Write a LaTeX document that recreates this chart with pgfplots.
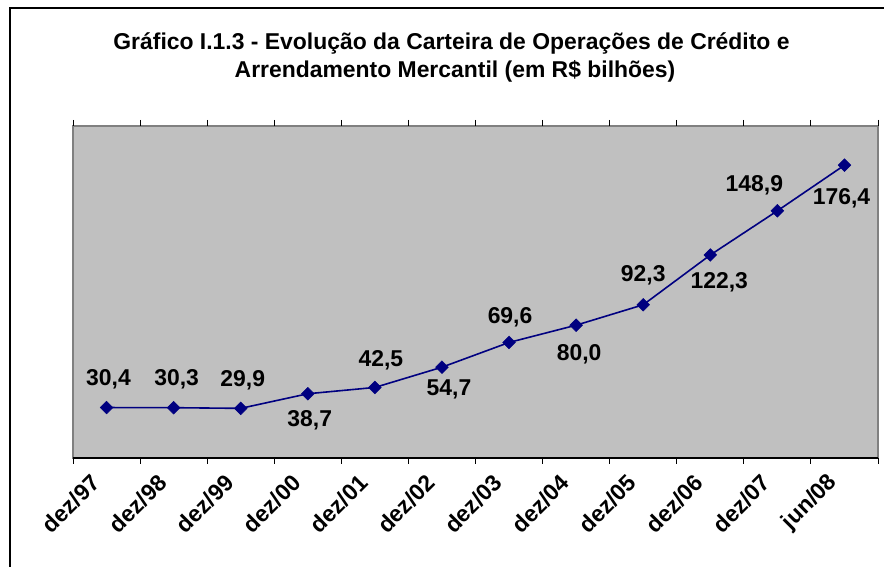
\documentclass[border=0pt]{standalone}
\usepackage{pgfplots}
\pgfplotsset{compat=1.18}
\usepackage{pgfplotstable}
\usepackage{fontspec}
\setmainfont{Liberation Sans}
\definecolor{navy}{HTML}{000080}
\definecolor{plotbg}{HTML}{C0C0C0}
\definecolor{frame}{HTML}{808080}
\pgfplotstableread{
x y label dx dy
0 30.4 30,4 2 22
1 30.3 30,3 3 22
2 29.9 29,9 2 22
3 38.7 38,7 2 -33
4 42.5 42,5 6 21
5 54.7 54,7 7 -28
6 69.6 69,6 1 19
7 80.0 80,0 3 -35
8 92.3 92,3 0 23
9 122.3 122,3 9 -34
10 148.9 148,9 -23 19
11 176.4 176,4 -3 -39
}\data
\begin{document}
\begin{tikzpicture}[x=1bp,y=1bp]
\useasboundingbox (0,0) rectangle (884,567);
\fill[white] (0,0) rectangle (884,567);
\draw[line width=1.2bp,black] (10,-5) -- (10,559) -- (890,559);
\node[anchor=base,font=\bfseries\fontsize{23}{27}\selectfont] at (451.5,517) {Gráfico I.1.3 - Evolução da Carteira de Operações de Crédito e};
\node[anchor=base,font=\bfseries\fontsize{23}{27}\selectfont] at (455,489) {Arrendamento Mercantil (em R\$ bilhões)};
\begin{axis}[
  at={(73bp,109bp)}, anchor=south west,
  scale only axis, width=805bp, height=332bp,
  xmin=-0.5, xmax=11.5, ymin=0, ymax=200,
  clip=false,
  axis background/.style={fill=plotbg},
  axis line style={draw=frame, line width=1.2bp},
  ytick=\empty,
  xtick={0,...,11},
  xticklabels={dez/97,dez/98,dez/99,dez/00,dez/01,dez/02,dez/03,dez/04,dez/05,dez/06,dez/07,jun/08},
  major tick length=0pt,
  x tick label style={xshift=-11bp, yshift=-21bp, rotate=45, anchor=east, inner sep=0pt, font=\bfseries\fontsize{23}{27}\selectfont},
  extra x ticks={-0.5,0.5,...,11.5},
  extra x tick labels={},
  extra x tick style={major tick length=6bp, tick align=outside, tick style={black, line width=1bp}},
]
\draw[black, line width=1.5bp] (rel axis cs:0,0) -- (rel axis cs:1,0);
\addplot[color=navy, line width=1.6bp, mark=square*, mark size=4.5bp,
  mark options={rotate=45, fill=navy, draw=navy, line width=0.5bp},
  nodes near coords, point meta=explicit symbolic,
  visualization depends on={1.00375*\thisrow{dx}\as\dx},
  visualization depends on={1.00375*\thisrow{dy}\as\dy},
  every node near coord/.append style={anchor=base, inner sep=0pt, xshift=\dx, yshift=\dy, text=black, font=\bfseries\fontsize{23}{27}\selectfont}]
  table[x=x, y=y, meta=label] {\data};
\end{axis}
\end{tikzpicture}
\end{document}
